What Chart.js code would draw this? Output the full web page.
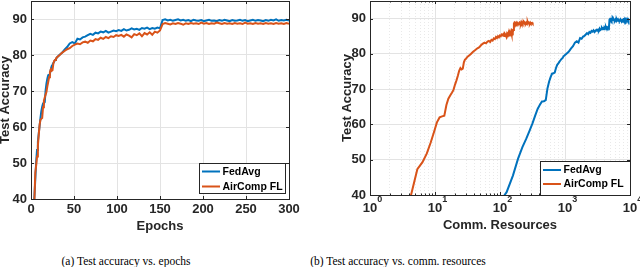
<!DOCTYPE html>
<html>
<head>
<meta charset="utf-8">
<script src="https://cdn.jsdelivr.net/npm/chart.js@4"></script>
<style>
  body { margin: 0; width: 640px; height: 267px; background: #fff; position: relative; overflow: hidden; }
  .panel { position: absolute; top: 0; width: 320px; height: 240px; }
  .caption { position: absolute; top: 255px; font: 11.5px "Liberation Serif", "Times New Roman", serif; line-height: 12px;
             color: #000; white-space: nowrap; transform: translateX(-50%); }
</style>
</head>
<body>
<div class="panel" style="left:0"><canvas id="epochChart" width="320" height="240"></canvas></div>
<div class="panel" style="left:320px"><canvas id="commChart" width="320" height="240"></canvas></div>
<div class="caption" style="left:126px">(a) Test accuracy vs. epochs</div>
<div class="caption" style="left:398px">(b) Test accuracy vs. comm. resources</div>
<script>
const epochs = [
  1, 2, 3, 4, 5, 6, 7, 8, 9, 10,
  11, 12, 13, 14, 15, 16, 17, 18, 19, 20,
  21, 22, 23, 24, 25, 26, 27, 28, 29, 30,
  33, 36, 39, 42, 45, 48, 51, 54, 57, 60,
  63, 66, 69, 72, 75, 78, 81, 84, 87, 90,
  93, 96, 99, 102, 105, 108, 111, 114, 117, 120,
  123, 126, 129, 132, 135, 138, 141, 144, 147, 150,
  153, 156, 159, 162, 165, 168, 171, 174, 177, 180,
  183, 186, 189, 192, 195, 198, 201, 204, 207, 210,
  213, 216, 219, 222, 225, 228, 231, 234, 237, 240,
  243, 246, 249, 252, 255, 258, 261, 264, 267, 270,
  273, 276, 279, 282, 285, 288, 291, 294, 297, 300
];

const fedAvgAcc = [
  22.0, 31.0, 37.5, 40.8, 45.5, 50.3, 53.6, 55.9, 58.2, 60.3,
  62.5, 64.4, 65.6, 66.5, 66.6, 66.9, 70.2, 72.1, 73.4, 74.4,
  74.5, 74.7, 76.0, 76.9, 77.3, 77.8, 78.2, 78.6, 78.8, 79.3,
  80.0, 80.6, 81.5, 82.2, 83.2, 83.6, 83.2, 84.5, 84.3, 84.9,
  85.1, 85.5, 85.9, 85.6, 86.2, 86.0, 86.5, 86.3, 86.7, 86.2,
  86.5, 86.8, 86.6, 86.9, 86.7, 87.2, 86.8, 87.0, 87.4, 87.1,
  87.3, 87.0, 87.5, 87.3, 87.6, 87.2, 87.5, 87.3, 87.6, 87.4,
  89.7, 89.9, 89.6, 89.8, 89.5, 89.7, 89.9, 89.6, 89.8, 89.5,
  89.7, 89.4, 89.8, 89.6, 89.5, 89.7, 89.4, 89.6, 89.8, 89.5,
  89.6, 89.4, 89.7, 89.5, 89.8, 89.6, 89.4, 89.7, 89.5, 89.6,
  89.8, 89.5, 89.7, 89.4, 89.6, 89.8, 89.5, 89.7, 89.6, 89.4,
  89.7, 89.5, 89.8, 89.6, 89.9, 89.5, 89.7, 89.6, 89.8, 89.6
];

const airCompAcc = [
  21.0, 30.0, 36.0, 40.0, 47.3, 49.3, 51.8, 54.8, 57.8, 60.6,
  62.0, 62.3, 62.5, 65.5, 67.3, 68.2, 69.0, 69.8, 71.3, 72.5,
  73.8, 75.2, 76.0, 75.6, 75.8, 77.6, 78.4, 78.6, 79.0, 79.3,
  79.9, 80.6, 81.1, 81.6, 81.9, 82.5, 82.9, 83.2, 83.0, 83.5,
  83.7, 83.4, 84.0, 83.8, 84.4, 84.2, 84.8, 84.5, 85.0, 84.7,
  85.2, 85.0, 85.5, 85.3, 85.6, 85.1, 85.7, 85.4, 84.9, 85.8,
  85.5, 86.0, 85.2, 86.1, 85.7, 86.3, 85.6, 86.5, 86.2, 86.8,
  88.6, 88.9, 88.7, 88.5, 88.8, 88.6, 88.9, 88.7, 88.4, 88.8,
  88.6, 88.9, 88.7, 88.8, 88.6, 89.0, 88.7, 88.9, 88.6, 88.8,
  88.7, 89.0, 88.8, 88.6, 88.9, 88.7, 88.8, 88.6, 88.9, 88.7,
  88.8, 88.6, 89.0, 88.7, 88.8, 88.6, 88.9, 88.7, 88.8, 88.6,
  88.9, 88.7, 88.8, 88.6, 88.9, 88.7, 88.8, 88.6, 88.9, 88.7
];

// communication resources spent per epoch (read from where the 150-epoch jump sits in panel b)
const fedAvgCommPerEpoch = 31.6;
const airCompCommPerEpoch = 1.07;

const accTicks = [40, 50, 60, 70, 80, 90];
const epochTicks = [0, 50, 100, 150, 200, 250, 300];
const commDecades = [1, 10, 100, 1000, 10000];

const BLUE = "#0072BD";
const ORANGE = "#D95319";
const AXIS = "#262626";
const GRID = "#e3e3e3";
const FONT = "'Liberation Sans', Arial, sans-serif";
const tickFont = { family: FONT, size: 13, weight: "bold" };

const isDecade = v => Math.abs(Math.log10(v) - Math.round(Math.log10(v))) < 1e-9;

// box round the axes plus small inward tick marks, like MATLAB
const frame = {
  id: "frame",
  afterDatasetsDraw(chart) {
    const { ctx, chartArea: a, scales: { x, y } } = chart;
    ctx.save();
    ctx.strokeStyle = AXIS;
    ctx.lineWidth = 1;
    ctx.beginPath();
    x.ticks.forEach(t => {
      const px = Math.round(x.getPixelForValue(t.value)) + 0.5;
      const len = x.type === "logarithmic" && !isDecade(t.value) ? 1.5 : 3;
      ctx.moveTo(px, a.bottom); ctx.lineTo(px, a.bottom - len);
      ctx.moveTo(px, a.top); ctx.lineTo(px, a.top + len);
    });
    y.ticks.forEach(t => {
      const py = Math.round(y.getPixelForValue(t.value)) + 0.5;
      ctx.moveTo(a.left, py); ctx.lineTo(a.left + 3, py);
      ctx.moveTo(a.right, py); ctx.lineTo(a.right - 3, py);
    });
    ctx.stroke();
    ctx.strokeRect(Math.round(a.left) + 0.5, Math.round(a.top) + 0.5,
                   Math.round(a.right - a.left), Math.round(a.bottom - a.top));
    ctx.restore();
  }
};

const axisTitles = {
  id: "axisTitles",
  afterDraw(chart, args, o) {
    const { ctx, chartArea: a } = chart;
    ctx.save();
    ctx.fillStyle = AXIS;
    ctx.font = `bold 13px ${FONT}`;
    ctx.textAlign = "center";
    ctx.textBaseline = "middle";
    ctx.fillText(o.x, (a.left + a.right) / 2, a.bottom + o.xGap);
    ctx.translate(o.yPos, (a.top + a.bottom) / 2);
    ctx.rotate(-Math.PI / 2);
    ctx.fillText(o.y, 0, 0);
    ctx.restore();
  }
};

// "10" with a raised exponent under each decade of the log axis
const powerLabels = {
  id: "powerLabels",
  afterDraw(chart, args, o) {
    if (!o.values) return;
    const { ctx, chartArea: a, scales: { x } } = chart;
    ctx.save();
    ctx.fillStyle = AXIS;
    ctx.textAlign = "left";
    ctx.textBaseline = "alphabetic";
    o.values.forEach(v => {
      const px = x.getPixelForValue(v);
      ctx.font = `bold 13px ${FONT}`;
      const w = ctx.measureText("10").width;
      ctx.fillText("10", px - w / 2, a.bottom + 16.5);
      ctx.font = `bold 9px ${FONT}`;
      ctx.fillText(String(Math.round(Math.log10(v))), px + w / 2, a.bottom + 7);
    });
    ctx.restore();
  }
};

const boxLegend = {
  id: "boxLegend",
  afterDraw(chart, args, o) {
    const { ctx, chartArea: a } = chart;
    const x0 = Math.round(a.right - o.right - o.width);
    const y0 = Math.round(a.bottom - o.bottom - o.height);
    ctx.save();
    ctx.fillStyle = "#fff";
    ctx.fillRect(x0, y0, o.width, o.height);
    ctx.strokeStyle = AXIS;
    ctx.lineWidth = 1;
    ctx.strokeRect(x0 + 0.5, y0 + 0.5, o.width, o.height);
    ctx.font = `bold 10.5px ${FONT}`;
    ctx.textAlign = "left";
    ctx.textBaseline = "middle";
    chart.data.datasets.forEach((ds, i) => {
      const ry = y0 + o.firstRow + i * o.rowGap;
      ctx.strokeStyle = ds.borderColor;
      ctx.lineWidth = 2;
      ctx.beginPath();
      ctx.moveTo(x0 + 3, ry);
      ctx.lineTo(x0 + 21, ry);
      ctx.stroke();
      ctx.fillStyle = "#000";
      ctx.fillText(ds.label, x0 + 23.5, ry + 0.5);
    });
    ctx.restore();
  }
};

function makeDatasets(fedX, airX) {
  return [
    { label: "FedAvg", data: epochs.map((e, i) => ({ x: fedX(e), y: fedAvgAcc[i] })),
      borderColor: BLUE, borderWidth: 2, pointRadius: 0, tension: 0, order: 1 },
    { label: "AirComp FL", data: epochs.map((e, i) => ({ x: airX(e), y: airCompAcc[i] })),
      borderColor: ORANGE, borderWidth: 2, pointRadius: 0, tension: 0, order: 0 }
  ];
}

function yScale(width) {
  return {
    min: 40, max: 95,
    afterBuildTicks: s => { s.ticks = accTicks.map(v => ({ value: v })); },
    afterFit: s => { s.width = width; s.paddingTop = 0; s.paddingBottom = 0; },
    grid: { color: GRID, drawTicks: false },
    border: { display: false },
    ticks: { color: AXIS, font: tickFont, padding: 4 }
  };
}

const common = {
  responsive: false,
  animation: false,
  devicePixelRatio: 1,
  events: [],
};

new Chart(document.getElementById("epochChart"), {
  type: "line",
  data: { datasets: makeDatasets(e => e, e => e) },
  plugins: [frame, axisTitles, boxLegend],
  options: {
    ...common,
    layout: { autoPadding: false, padding: { top: 1, right: 31, left: 0, bottom: 0 } },
    scales: {
      x: {
        type: "linear", min: 0, max: 300,
        afterBuildTicks: s => { s.ticks = epochTicks.map(v => ({ value: v })); },
        afterFit: s => { s.height = 41; s.paddingLeft = 0; s.paddingRight = 0; },
        grid: { color: GRID, drawTicks: false },
        border: { display: false },
        ticks: { color: AXIS, font: tickFont, padding: 3, maxRotation: 0 }
      },
      y: yScale(31)
    },
    plugins: {
      legend: { display: false },
      tooltip: { enabled: false },
      axisTitles: { x: "Epochs", y: "Test Accuracy", xGap: 27, yPos: 5 },
      boxLegend: { right: 4, bottom: 6, width: 86, height: 30, firstRow: 8.5, rowGap: 15 }
    }
  }
});

new Chart(document.getElementById("commChart"), {
  type: "line",
  data: { datasets: makeDatasets(e => e * fedAvgCommPerEpoch, e => e * airCompCommPerEpoch) },
  plugins: [frame, axisTitles, powerLabels, boxLegend],
  options: {
    ...common,
    layout: { autoPadding: false, padding: { top: 1, right: 10, left: 0, bottom: 0 } },
    scales: {
      x: {
        type: "logarithmic", min: 1, max: 10000,
        afterBuildTicks: s => {
          const t = [];
          for (let d = 1; d < 10000; d *= 10) for (let m = 1; m < 10; m++) t.push({ value: m * d });
          t.push({ value: 10000 });
          s.ticks = t;
        },
        afterFit: s => { s.height = 45; s.paddingLeft = 0; s.paddingRight = 0; },
        grid: { color: ctx => (ctx.tick && !isDecade(ctx.tick.value) ? "#e9e9e9" : GRID), drawTicks: false },
        border: { display: false, dash: ctx => (ctx.tick && !isDecade(ctx.tick.value) ? [1, 2] : []) },
        ticks: { display: false, autoSkip: false }
      },
      y: yScale(50)
    },
    plugins: {
      legend: { display: false },
      tooltip: { enabled: false },
      axisTitles: { x: "Comm. Resources", y: "Test Accuracy", xGap: 30, yPos: 27 },
      powerLabels: { values: commDecades },
      boxLegend: { right: 0, bottom: 0, width: 90, height: 34, firstRow: 9, rowGap: 14 }
    }
  }
});
</script>
</body>
</html>
